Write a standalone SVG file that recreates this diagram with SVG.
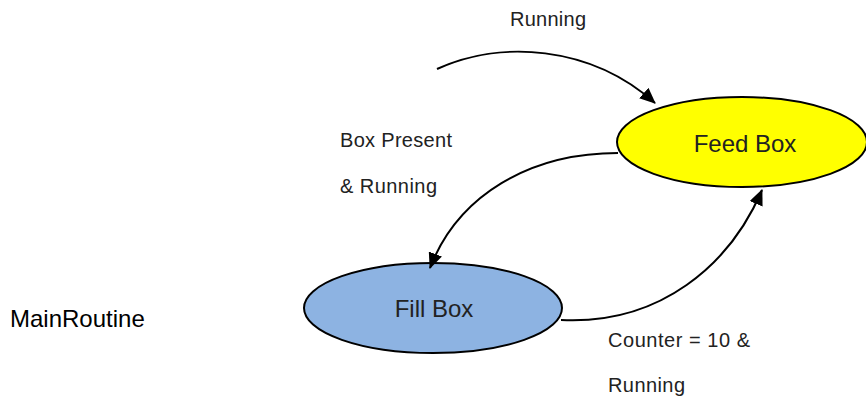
<svg xmlns="http://www.w3.org/2000/svg" width="866" height="396" viewBox="0 0 866 396">
<style>
.lbl{font-family:"Liberation Sans",Arial,sans-serif;font-size:20px;fill:#222}
.big{font-size:24px}
.node{stroke:#000;stroke-width:2}
.edge{fill:none;stroke:#000;stroke-width:2}
</style>
<defs>
<marker id="arr" viewBox="0 0 16 14" refX="15" refY="7" markerWidth="16" markerHeight="14" markerUnits="userSpaceOnUse" orient="auto">
<path d="M0,0 L16,7 L0,14 Z" fill="#000"/>
</marker>
</defs>
<rect width="866" height="396" fill="#fff"/>
<g id="feedbox">
<ellipse class="node" cx="742" cy="142" rx="125" ry="45" fill="#ffff00"/>
<text class="lbl big" x="745" y="152" text-anchor="middle">Feed Box</text>
</g>
<g id="fillbox">
<ellipse class="node" cx="433" cy="308" rx="129" ry="45" fill="#8db3e2"/>
<text class="lbl big" x="434" y="317" text-anchor="middle">Fill Box</text>
</g>
<g id="connectors">
<path class="edge" d="M437,69 C500,40 590,45 655,103" marker-end="url(#arr)"/>
<path class="edge" d="M618,153 C530,153 458,195 430,268" marker-end="url(#arr)"/>
<path class="edge" d="M561,320 C660,325 730,265 762,190" marker-end="url(#arr)"/>
</g>
<g id="labels">
<text class="lbl" x="510" y="26" textLength="76">Running</text>
<text class="lbl" x="340" y="147" textLength="112">Box Present</text>
<text class="lbl" x="340" y="193" textLength="97">&amp; Running</text>
<text class="lbl" x="608" y="347" textLength="142">Counter = 10 &amp;</text>
<text class="lbl" x="608" y="392" textLength="77">Running</text>
<text class="lbl big" x="10" y="327" style="fill:#000">MainRoutine</text>
</g>
</svg>
